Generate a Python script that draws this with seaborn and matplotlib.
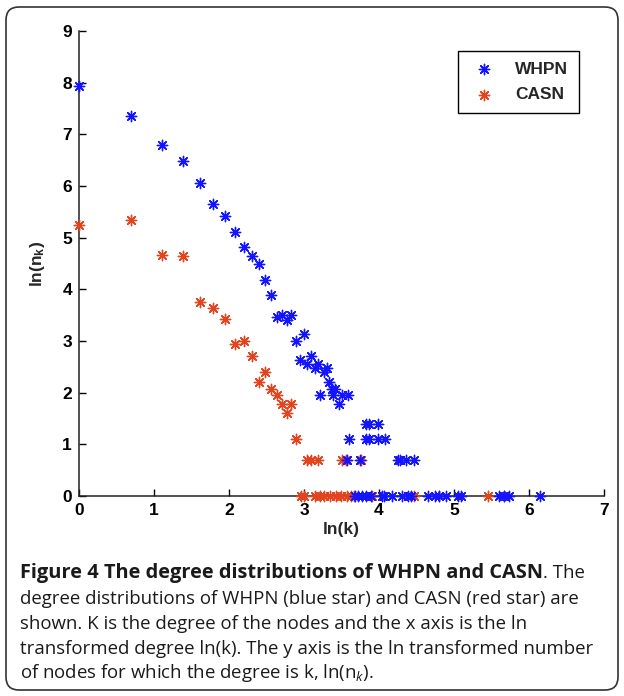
import numpy as np
import pandas as pd
import matplotlib
matplotlib.use("Agg")
import matplotlib.pyplot as plt
from matplotlib.patches import FancyBboxPatch
import seaborn as sns

# ln(k) and ln(n_k)
whpn_lnk = [0.00, 0.69, 1.10, 1.39, 1.61, 1.79, 1.95, 2.08, 2.20, 2.30, 2.40, 2.48,
            2.56, 2.64, 2.71, 2.77, 2.83, 2.89, 2.94, 3.00, 3.04, 3.09, 3.14, 3.18,
            3.21, 3.26, 3.30, 3.33, 3.37, 3.38, 3.41, 3.47, 3.50, 3.59,
            3.60, 3.82, 3.87, 3.99, 4.08,
            3.83, 3.87, 3.98,
            3.57, 3.75, 4.25, 4.28, 4.36, 4.47,
            3.68, 3.72, 3.77, 3.83, 3.89, 4.04, 4.07, 4.17, 4.30, 4.39, 4.43, 4.65,
            4.75, 4.80, 4.89, 5.05, 5.09, 5.60, 5.67, 5.73, 6.15]
whpn_lnn = [7.93, 7.35, 6.79, 6.49, 6.05, 5.65, 5.42, 5.11, 4.81, 4.65, 4.50, 4.19,
            3.89, 3.47, 3.50, 3.40, 3.50, 3.00, 2.64, 3.14, 2.56, 2.71, 2.48, 2.56,
            1.95, 2.40, 2.48, 2.20, 2.08, 1.95, 2.08, 1.79, 1.95, 1.95,
            1.10, 1.10, 1.10, 1.10, 1.10,
            1.39, 1.39, 1.39,
            0.69, 0.69, 0.69, 0.69, 0.69, 0.69,
            0.00, 0.00, 0.00, 0.00, 0.00, 0.00, 0.00, 0.00, 0.00, 0.00, 0.00, 0.00,
            0.00, 0.00, 0.00, 0.00, 0.00, 0.00, 0.00, 0.00, 0.00]

casn_lnk = [0.00, 0.69, 1.10, 1.39, 1.61, 1.79, 1.95, 2.08, 2.20, 2.30, 2.40, 2.48,
            2.56, 2.64, 2.71, 2.77, 2.83, 2.89,
            3.04, 3.09, 3.18, 3.50, 3.56, 3.76,
            2.96, 3.00, 3.14, 3.21, 3.26, 3.35, 3.43, 3.49, 3.57, 3.63, 3.66,
            3.90, 4.47, 4.80, 5.45, 5.67]
casn_lnn = [5.25, 5.35, 4.66, 4.64, 3.76, 3.64, 3.43, 2.94, 3.00, 2.71, 2.20, 2.40,
            2.08, 1.95, 1.79, 1.61, 1.79, 1.10,
            0.69, 0.69, 0.69, 0.69, 0.69, 0.69,
            0.00, 0.00, 0.00, 0.00, 0.00, 0.00, 0.00, 0.00, 0.00, 0.00, 0.00,
            0.00, 0.00, 0.00, 0.00, 0.00]

networks = ["WHPN", "CASN"]
colors = {"WHPN": "#1414ff", "CASN": "#e2441e"}
xticks = list(range(0, 8))
yticks = list(range(0, 10))

df = pd.concat([
    pd.DataFrame({"lnk": whpn_lnk, "lnn": whpn_lnn, "network": "WHPN"}),
    pd.DataFrame({"lnk": casn_lnk, "lnn": casn_lnn, "network": "CASN"}),
])

sns.set_theme(style="white")
plt.rcParams["font.family"] = ["Liberation Sans", "DejaVu Sans"]
plt.rcParams["mathtext.fontset"] = "custom"
plt.rcParams["mathtext.bf"] = "Liberation Sans:bold"
plt.rcParams["mathtext.it"] = "Open Sans:italic"
plt.rcParams["mathtext.rm"] = "Open Sans"

fig = plt.figure(figsize=(6.24, 6.96), dpi=100)
ax = fig.add_axes([79 / 624, 200 / 696, 525 / 624, 465 / 696])

# CASN drawn first so blue sits on top, as in the original
for name in ["CASN", "WHPN"]:
    sns.scatterplot(data=df[df.network == name], x="lnk", y="lnn", ax=ax,
                    color=colors[name], marker=(8, 2, 0), s=55, linewidth=1.0,
                    label=name, zorder=3, clip_on=False)

ax.set_xlim(0, 7)
ax.set_ylim(0, 9)
ax.set_xticks(xticks)
ax.set_xticklabels([str(v) for v in xticks], fontfamily="Liberation Sans", fontweight="bold")
ax.set_yticks(yticks)
ax.set_yticklabels([str(v) for v in yticks], fontfamily="Liberation Sans", fontweight="bold")
ax.tick_params(direction="in", length=5, width=1, labelsize=12.5, pad=5,
               colors="black", left=True, bottom=True)
sns.despine(ax=ax)
for s in ["left", "bottom"]:
    ax.spines[s].set_color("#222222")
    ax.spines[s].set_linewidth(1.1)

ax.set_xlabel("ln(k)", fontsize=12.5, fontweight="bold", labelpad=3)
ax.set_ylabel(r"ln(n$_\mathbf{k}$)", fontsize=12.5, fontweight="bold", labelpad=11)

handles, labels = ax.get_legend_handles_labels()
order = [labels.index(n) for n in networks]
leg = ax.legend([handles[i] for i in order], networks, loc="upper right",
                bbox_to_anchor=(0.952, 0.957), frameon=True, fancybox=False,
                framealpha=1, edgecolor="black", borderpad=0.6, labelspacing=0.6,
                handletextpad=0.9, handlelength=1.8, borderaxespad=0,
                prop={"weight": "bold", "size": 12.5})
leg.get_frame().set_linewidth(1.0)

# rounded frame round the whole figure
frame = FancyBboxPatch((0.06, 0.06), 6.12, 6.83, boxstyle="round,pad=0,rounding_size=0.13",
                       transform=fig.dpi_scale_trans, fill=False, edgecolor="#333333",
                       linewidth=1.2)
fig.patches.append(frame)

# caption
cap_font = ["Open Sans", "DejaVu Sans"]
cap_size = 13.4
cap_bold_size = 14.4
cap_color = "#1a1a1a"
x0 = 20 / 624
line_y = [578, 604, 629, 654, 678]
fig.canvas.draw()
renderer = fig.canvas.get_renderer()
t = fig.text(x0, 1 - line_y[0] / 696, "Figure 4 The degree distributions of WHPN and CASN",
             family=cap_font, fontweight="bold", fontsize=cap_bold_size, color=cap_color,
             va="baseline")
bb = t.get_window_extent(renderer=renderer)
fig.text(bb.x1 / fig.bbox.width, 1 - line_y[0] / 696, ". The",
         family=cap_font, fontsize=cap_size, color=cap_color, va="baseline")
rest = ["degree distributions of WHPN (blue star) and CASN (red star) are",
        "shown. K is the degree of the nodes and the x axis is the ln",
        "transformed degree ln(k). The y axis is the ln transformed number",
        r"of nodes for which the degree is k, ln(n$_{k}$)."]
for yy, line in zip(line_y[1:], rest):
    fig.text(x0, 1 - yy / 696, line, family=cap_font, fontsize=cap_size,
             color=cap_color, va="baseline")

fig.savefig("out.png", dpi=100)
